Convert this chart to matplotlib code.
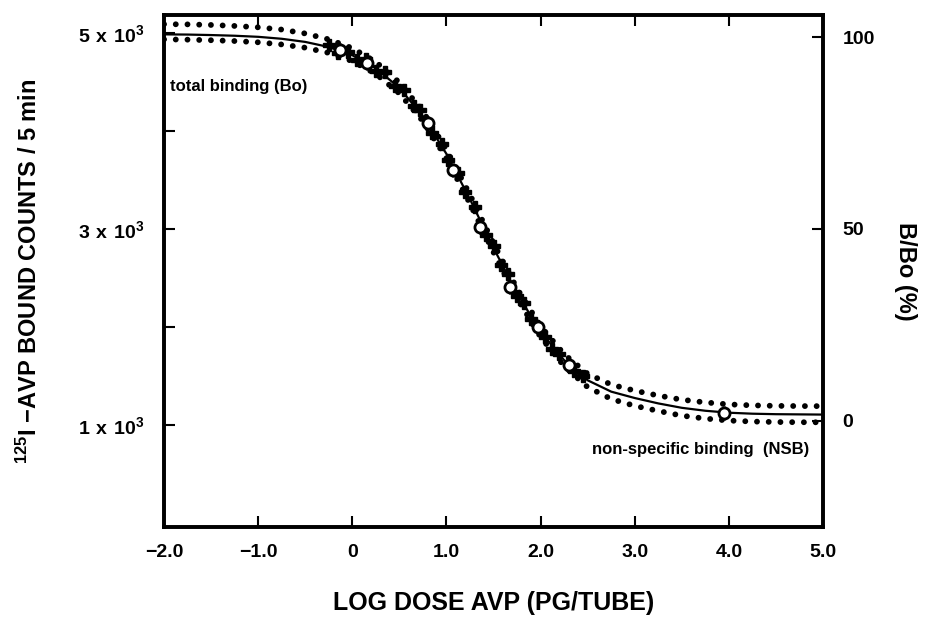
import matplotlib.pyplot as plt

# log dose grid for fitted curve and confidence bands
dose = [-2.0, -1.75, -1.5, -1.25, -1.0, -0.75, -0.5, -0.25, 0.0, 0.25, 0.5, 0.75,
        1.0, 1.25, 1.5, 1.75, 2.0, 2.25, 2.5, 2.75, 3.0, 3.25, 3.5, 3.75, 4.0,
        4.25, 4.5, 4.75, 5.0]
fit_counts = [4986, 4984, 4979, 4972, 4961, 4941, 4909, 4857, 4773, 4641, 4439, 4151,
              3766, 3303, 2807, 2342, 1952, 1661, 1456, 1340, 1275, 1220, 1175, 1145,
              1125, 1115, 1110, 1108, 1106]
upper_counts = [5090, 5088, 5082, 5072, 5058, 5035, 4995, 4935, 4845, 4705, 4495, 4200,
                3810, 3348, 2852, 2392, 2007, 1722, 1522, 1412, 1350, 1300, 1258, 1230,
                1210, 1200, 1195, 1193, 1192]
lower_counts = [4935, 4932, 4926, 4918, 4905, 4883, 4850, 4797, 4713, 4583, 4384, 4100,
                3721, 3258, 2762, 2295, 1897, 1600, 1386, 1265, 1195, 1143, 1095, 1065,
                1045, 1035, 1030, 1028, 1027]

# standards (open circles)
std_dose = [-0.13, 0.16, 0.80, 1.07, 1.36, 1.68, 1.97, 2.30, 3.95]
std_counts = [4827, 4694, 4082, 3602, 3020, 2408, 2000, 1612, 1122]

# samples (crosses)
smp_dose = [-0.25, -0.15, -0.05, 0.05, 0.15, 0.25, 0.35, 0.45, 0.55, 0.65, 0.72, 0.85,
            0.95, 1.02, 1.12, 1.2, 1.3, 1.42, 1.5, 1.58, 1.65, 1.75, 1.82, 1.9, 2.05,
            2.12, 2.2, 2.35, 2.45]
smp_counts = [4880, 4800, 4810, 4720, 4730, 4610, 4600, 4460, 4420, 4250, 4210, 3980,
              3870, 3700, 3570, 3380, 3220, 2940, 2830, 2630, 2540, 2320, 2240, 2080,
              1900, 1780, 1720, 1555, 1500]

x_ticks = [-2.0, -1.0, 0.0, 1.0, 2.0, 3.0, 4.0, 5.0]
x_labels = ['\u22122.0', '\u22121.0', '0', '1.0', '2.0', '3.0', '4.0', '5.0']
y_ticks = [1000, 3000, 5000]
y_labels = [r'$\mathregular{1\ x\ 10^3}$', r'$\mathregular{3\ x\ 10^3}$',
            r'$\mathregular{5\ x\ 10^3}$']
pct_ticks = [0, 50, 100]

# counts that correspond to 0 % and 100 % B/Bo
nsb_counts = 1041
bo_counts = 4959

plt.rcParams['font.family'] = ['Liberation Sans', 'DejaVu Sans']
plt.rcParams['font.weight'] = 'bold'
plt.rcParams['axes.labelweight'] = 'bold'
plt.rcParams['mathtext.default'] = 'regular'

fig = plt.figure(figsize=(9.34, 6.21), dpi=100)
ax = fig.add_axes([0.1756, 0.1514, 0.7056, 0.8245])

dots = (0, (0.01, 2.0))
ax.plot(dose, upper_counts, color='black', lw=4.2, ls=dots, dash_capstyle='round')
ax.plot(dose, lower_counts, color='black', lw=4.2, ls=dots, dash_capstyle='round')
ax.plot(dose, fit_counts, color='black', lw=1.6)

ax.errorbar(smp_dose, smp_counts, yerr=50, fmt='P', color='black', ms=8,
            elinewidth=2, capsize=0, zorder=4)
ax.errorbar(std_dose, std_counts, yerr=70, fmt='o', mfc='white', mec='black',
            mew=2, ms=8, ecolor='black', elinewidth=2, capsize=0, zorder=5)

ax.set_xlim(-2.0, 5.0)
ax.set_ylim(-41, 5184)
ax.set_xticks(x_ticks)
ax.set_xticklabels(x_labels)
ax.set_yticks(y_ticks)
ax.set_yticklabels(y_labels)
ax.set_yticks([2000, 4000], minor=True)

ax.tick_params(axis='both', which='both', direction='in', width=1.5,
               labelsize=14, top=True)
ax.tick_params(axis='x', length=8, pad=12)
ax.tick_params(axis='y', which='major', length=8, pad=14)
ax.tick_params(axis='y', which='minor', length=8)
for s in ax.spines.values():
    s.set_linewidth(2.6)

ax.text(-1.94, 4459, 'total binding (Bo)', fontsize=12, va='center', ha='left')
ax.text(4.85, 745, 'non-specific binding  (NSB)', fontsize=12, va='center', ha='right')

ax.set_xlabel('LOG DOSE AVP (PG/TUBE)', fontsize=18, labelpad=22)
ax.set_ylabel('$^{125}$I \u2212AVP BOUND COUNTS / 5 min', fontsize=17,
              labelpad=26)

# right axis in percent of Bo
ax2 = ax.twinx()
lo, hi = ax.get_ylim()
span = (bo_counts - nsb_counts) / 100.0
ax2.set_ylim((lo - nsb_counts) / span, (hi - nsb_counts) / span)
ax2.set_yticks(pct_ticks)
ax2.tick_params(axis='y', direction='in', length=8, width=1.5, labelsize=14, pad=14)
ax2.set_ylabel('B/Bo (%)', fontsize=17, rotation=270, labelpad=30)
for s in ax2.spines.values():
    s.set_linewidth(2.6)

fig.savefig('out.png', dpi=100)
